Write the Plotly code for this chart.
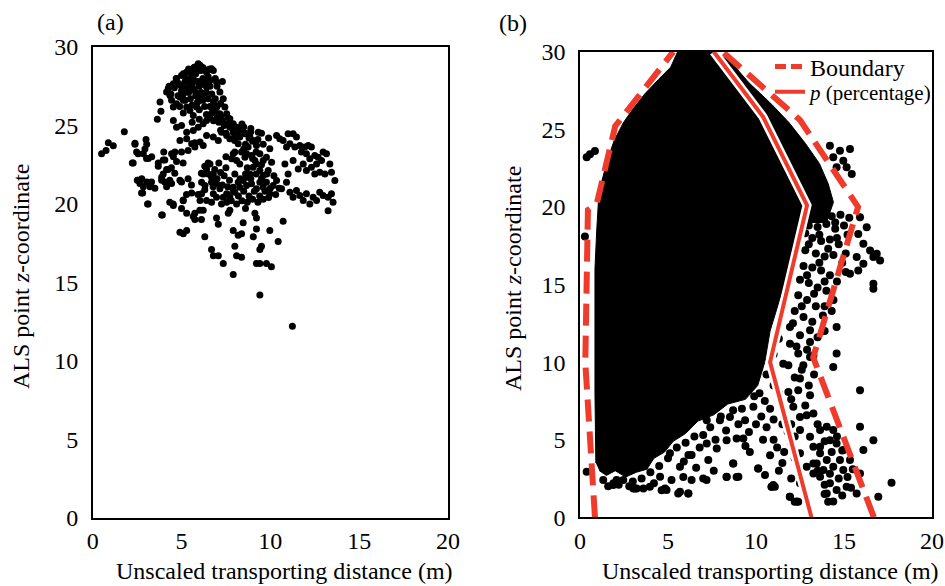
import plotly.graph_objects as go

# ---------------- Panel (a): ALS points (x = transporting distance, y = z) ----------------
a_top = [(5.94,28.94),(6.04,28.83),(5.75,28.72),(5.57,28.51),(5.29,28.40),(5.0,28.19),(4.72,27.98),
         (4.54,27.66),(4.25,27.34),(4.16,27.13),(4.35,26.91),(4.44,26.60),(4.54,26.17),(4.72,26.38),
         (4.91,26.81),(5.10,26.60),(5.29,26.17),(5.47,25.96),(5.66,25.64),(5.85,26.17),(6.04,26.60),
         (6.22,27.02),(6.41,27.45),(6.60,27.87),(6.79,28.51),(6.50,28.55),(6.69,28.62),(6.97,27.77),
         (7.16,27.13),(7.35,26.70),(7.44,26.17),(7.54,25.74),(7.72,25.43),(7.91,25.11),(8.10,24.89),
         (8.19,24.47),(7.91,24.57),(7.72,24.89),(7.16,25.74),(6.97,26.17),(6.79,25.96),(6.60,25.53),
         (6.41,25.32),(6.22,25.11),(5.94,24.89),(5.66,24.68),(5.29,24.57),(5.0,25.0),(4.72,24.89),
         (4.54,25.32),(4.6,27.4),(4.9,27.6),(5.2,27.8),(5.5,28.0),(5.8,28.3),(6.1,28.5),(6.4,28.4),
         (5.0,27.2),(5.3,27.4),(5.6,27.6),(5.9,27.8),(6.2,28.0),(6.5,28.1),(4.8,26.9),(5.1,27.0),
         (5.4,27.1),(5.7,27.3),(6.0,27.5),(6.3,27.6),(6.6,27.5),(5.2,26.6),(5.5,26.7),(5.8,26.9),
         (6.1,27.1),(6.4,27.1),(6.7,27.0),(5.6,26.3),(5.9,26.5),(6.2,26.6),(6.5,26.7),(6.8,26.5),
         (7.0,26.2),(6.0,26.0),(6.3,26.2),(6.6,26.2),(6.9,25.9),(7.2,25.6),(6.4,25.7),(6.7,25.8),
         (7.0,25.5),(7.3,25.3),(7.6,25.1),(6.8,25.3),(7.1,25.2),(7.4,25.0),(7.8,24.9),(8.3,24.7),
         (8.0,24.3),(7.5,24.5),(7.2,24.7),(8.6,24.5),(8.8,24.2),(9.0,24.0),(8.6,23.8),(4.4,27.0),
         (4.3,27.5),(4.7,28.0),(5.1,28.3),(5.4,28.6),(5.7,28.7),(6.2,28.7),(6.6,28.6),(6.9,28.0),
         (7.0,27.5),(7.3,27.8),(3.64,25.4),(3.84,25.9),(3.79,26.5),(4.8,27.7),(5.3,28.0),(5.6,28.3),
         (5.9,28.5),(5.4,27.8),(5.0,27.5),(5.7,27.9),(6.1,27.8),(6.4,27.8),(5.5,27.4),(5.8,27.1),
         (6.1,26.8),(6.9,26.7),(7.2,26.4),(7.6,25.5),(8.4,25.1),(8.9,24.6),(9.3,24.1),(6.0,25.4),
         (5.6,25.2),(5.1,25.8),(4.9,26.2)]

a_mid = [(6.13,21.38),(6.22,21.91),(6.41,22.23),(6.60,22.55),(6.69,21.38),(6.79,20.64),(6.50,21.91),
         (6.32,21.17),(6.13,20.64),(6.04,20.21),(6.41,20.21),(6.69,20.11),(6.97,20.43),(7.25,20.0),
         (7.54,20.64),(7.91,21.06),(8.19,21.38),(8.66,21.17),(8.94,21.28),(9.22,20.96),(9.41,21.38),
         (9.60,21.06),(9.78,21.38),(9.97,20.64),(10.16,21.17),(10.35,21.49),(10.63,20.96),(10.91,21.38),
         (11.10,20.74),(11.28,20.43),(11.47,20.85),(11.66,20.53),(11.85,20.21),(12.03,20.64),(12.22,20.0),
         (12.41,20.43),(12.60,20.21),(12.78,20.74),(12.97,20.53),(13.25,20.43),(13.44,20.64),(13.53,20.11),
         (13.25,19.57),(7.72,20.43),(8.0,20.74),(8.28,21.06),(8.47,21.49),(8.75,21.70),(8.85,21.91),
         (9.03,22.34),(9.22,22.55),(9.41,22.13),(9.60,21.81),(9.88,22.13),(10.07,22.66),(9.97,23.51),
         (9.78,22.98),(9.60,22.77),(9.41,23.19),(9.13,22.77),(8.94,23.09),(8.57,22.98),(8.28,22.55),
         (8.10,22.77),(7.82,22.87),(7.91,23.19),(8.19,23.83),(8.38,23.30),(8.66,23.19),(8.75,23.62),
         (9.22,23.72),(9.32,24.57),(9.03,24.04),(8.85,24.26),(8.57,24.47),(8.28,24.26),(7.99,24.04),
         (7.72,24.15),(7.54,24.36),(7.25,24.57),(7.07,24.04),(6.79,24.26),(6.41,24.36),(6.22,23.72),
         (6.04,23.94),(5.75,23.62),(5.57,23.83),(5.29,24.15),(4.91,24.04),(7.16,20.96),(6.97,21.28),
         (6.79,21.91),(7.35,20.43),(7.54,20.11),(7.4,21.8),(7.7,21.5),(8.0,21.9),(8.3,21.6),(8.6,21.9),
         (8.9,21.6),(9.2,21.9),(9.5,21.6),(9.8,21.9),(7.6,21.1),(7.9,20.8),(8.2,20.5),(8.5,20.8),
         (8.8,20.5),(9.1,20.8),(9.4,20.5),(9.7,20.8),(10.0,21.0),(7.8,20.2),(8.1,20.0),(8.4,20.2),
         (8.7,20.1),(9.0,20.3),(9.3,20.1),(9.6,20.3),(8.6,19.7),(9.9,20.4),(10.3,20.6),(10.5,21.0),
         (10.2,21.8),(9.5,22.5),(9.0,22.9),(8.7,22.3),(7.5,22.3),(7.2,22.0),(7.0,21.6),(7.3,21.2),
         (7.1,22.6),(7.5,23.0),(8.0,23.3),(8.5,23.5),(9.2,23.3),(9.6,23.8),(9.9,24.2),(9.5,24.5),
         (8.9,24.8),(8.5,24.9)]

a_right = [(10.35,24.36),(10.53,24.15),(10.72,24.04),(11.0,24.47),(11.28,24.47),(11.47,24.26),
           (11.10,23.83),(10.91,23.62),(11.38,23.62),(11.66,23.72),(11.94,23.62),(12.13,23.72),
           (12.31,23.62),(11.75,23.30),(12.03,23.19),(12.22,22.87),(12.50,23.09),(12.69,22.98),
           (12.97,23.30),(13.16,23.19),(12.88,22.77),(12.60,22.55),(13.35,22.55),(13.44,22.02),
           (13.63,21.49),(10.82,22.55),(11.0,21.91),(11.28,22.77),(11.57,22.23),(11.85,22.55),
           (12.03,22.13),(12.31,22.34),(12.50,21.91),(12.78,22.02),(13.07,21.91)]

a_left = [(0.5,23.2),(0.75,23.4),(0.88,23.9),(1.16,23.7),(1.78,24.6),(2.23,22.6),(2.38,23.8),(2.47,23.3),
          (2.51,21.5),(2.66,21.3),(2.76,21.6),(2.85,21.1),(3.04,21.4),(3.22,21.1),(2.81,20.7),(3.09,20.0),
          (3.0,24.1),(3.04,23.8),(2.85,23.2),(3.13,22.9),(3.32,23.0),(3.69,22.4),(3.97,22.8),(4.0,23.3),
          (3.88,21.5),(3.97,21.9),(3.92,19.3),(4.16,21.1),(4.34,20.1),(4.43,22.3),(4.54,23.0),(4.63,23.3),
          (4.16,22.2),(4.34,21.5),(4.54,19.9),(4.91,21.5),(5.0,19.7),(5.1,20.2),(4.91,18.2),(5.1,18.1),
          (5.29,18.3),(5.29,19.4),(5.57,20.7),(5.66,19.2),(5.75,19.0),(6.03,19.6),(6.22,19.6),(6.31,17.9),
          (2.38,23.86),(2.56,23.2),(2.94,23.5),(3.03,22.9),(3.69,22.6),(4.06,22.8),(4.44,23.2),(5.0,23.3),
          (5.37,23.4),(5.75,23.9),(4.72,22.7),(5.09,22.6),(4.25,22.2),(4.62,21.95),(3.88,21.7),(4.06,21.4),
          (4.44,21.3),(5.0,21.4),(5.37,21.6),(5.56,21.2),(6.12,21.95),(6.31,22.4),(6.5,22.6),(6.69,21.7),
          (6.87,22.2),(6.78,21.1),(6.31,20.9),(5.93,20.6),(5.28,20.6),(5.09,20.25),(4.53,20.0),(3.12,20.0),
          (2.75,20.7),(3.88,19.3),(5.75,19.4),(6.12,19.0),(2.56,21.5),(3.31,21.4),(3.5,21.0),(2.28,22.6)]

a_low = [(6.97,19.1),(7.07,18.7),(6.69,17.1),(6.79,16.7),(7.07,16.7),(7.35,16.2),(7.63,19.4),(7.72,19.6),
         (7.91,18.3),(7.91,15.5),(8.0,17.3),(8.1,16.7),(8.38,16.6),(8.19,18.0),(8.38,18.1),(8.47,18.8),
         (9.04,17.9),(9.22,18.4),(9.13,19.4),(9.22,19.1),(9.41,17.1),(9.5,17.3),(9.22,16.2),(9.41,16.2),
         (9.78,16.2),(10.06,16.0),(9.97,18.3),(10.44,17.6),(10.72,18.9),(9.41,14.2),(11.24,12.2)]

# ---------------- Panel (b) ----------------
# dense (fully black) part of the point cloud, outline vertices
b_core = [(0.9,3.5),(0.85,8),(0.85,12),(0.85,16),(0.95,18.5),(1.05,20.4),(1.25,21.7),(1.55,23.0),
          (1.95,24.3),(2.45,25.4),(3.0,26.3),(3.7,27.3),(4.45,28.2),(5.15,29.0),(5.55,30),(7.7,30),
          (8.6,29.3),(9.6,28.0),(10.9,26.6),(11.9,25.4),(12.8,24.1),(13.6,22.8),(14.1,21.5),
          (14.4,20.3),(14.0,19.0),(12.5,19.0),(11.6,15.0),(10.8,12.0),(10.5,10.0),(10.1,8.5),
          (9.4,7.6),(8.4,7.3),(7.6,6.6),(6.7,6.2),(6.0,5.4),(5.3,4.9),(4.8,4.2),(4.2,3.8),
          (3.8,3.1),(3.2,2.9),(2.6,2.6),(2.0,3.0),(1.5,2.7),(1.1,3.0)]

b_dots = [(11.93,12.26),(12.5,11.73),(13.07,12.05),(11.93,11.19),(12.4,10.55),(13.07,11.3),(13.26,10.44),
          (11.55,9.9),(11.84,9.8),(12.5,8.94),(12.69,9.8),(11.84,8.08),(12.4,8.19),(13.07,7.87),
          (13.26,6.69),(12.88,6.58),(12.5,6.47),(12.12,7.12),(12.5,5.62),(13.07,5.19),(13.26,4.54),
          (13.64,5.62),(14.02,5.83),(14.39,5.62),(14.2,4.97),(14.58,4.76),(13.64,4.12),(13.26,3.47),
          (14.02,3.69),(14.39,3.26),(14.77,3.69),(14.96,3.04),(13.64,2.62),(14.2,2.19),(14.58,1.76),
          (15.15,1.97),(14.39,1.01),(14.02,1.54),(15.72,1.54),(12.31,1.01),(11.93,1.33),(15.91,8.19),
          (15.91,5.83),(16.67,4.97),(16.1,4.33),(15.91,2.83),(17.7,2.23),(16.95,1.33),(14.58,12.26),
          (14.58,10.55),(14.39,9.69),(13.07,10.33),(13.45,3.47),(13.83,3.04),(13.26,2.83),(10.98,2.08),
          (10.89,1.97),(12.88,3.26),(12.5,4.12),(14.96,4.33),(15.34,3.69),(13.64,4.54),
          (8.33,4.97),(7.77,4.44),(8.9,5.08),(9.28,5.08),(7.2,4.76),(6.16,4.01),(6.34,4.01),(7.29,3.69),
          (8.71,3.47),(8.33,2.62),(9.0,2.62),(10.13,3.15),(10.51,2.72),(7.95,6.26),(8.52,6.47),(9.38,6.26),
          (9.85,7.12),(7.2,6.26),(6.63,6.69),(5.68,5.62),(5.11,4.12),(5.68,3.26),(4.55,2.62),(4.92,1.76),
          (5.68,1.65),(6.16,1.54),(3.13,1.86),(3.6,1.86),(1.89,2.08),(2.46,2.4),(0.38,2.94),
          (14.2,23.94),(14.77,23.62),(15.34,23.73),(14.96,22.98),(15.15,22.55),(15.44,22.12),(14.58,22.55),
          (14.39,23.2),(15.91,19.33),(16.29,18.69),(15.81,18.26),(16.1,17.62),(16.48,17.19),(16.86,16.98),
          (17.05,16.55),(16.67,16.77),(15.72,16.77),(16.1,16.34),(15.34,15.69),(16.67,15.05),(16.67,14.73),
          (15.81,15.91),
          (13.3,19.5),(13.8,19.6),(14.3,19.4),(14.8,19.5),(13.0,18.8),(13.5,18.7),(14.0,18.9),(14.5,18.6),
          (15.0,18.8),(13.2,18.0),(13.7,17.8),(14.2,17.9),(14.7,17.6),(12.8,17.2),(13.4,17.0),(13.9,16.8),
          (14.4,16.9),(15.1,17.0),(12.7,16.2),(13.2,16.1),(13.7,15.9),(14.2,15.6),(12.5,15.3),(13.0,15.1),
          (13.5,14.8),(14.0,14.6),(12.4,14.3),(12.9,14.0),(13.4,13.6),(12.2,13.3),(12.7,12.9),(13.2,12.6),
          (13.8,13.0),(12.1,12.5),
          (12.9,19.3),(13.5,19.2),(14.5,19.0),(15.3,19.3),(15.2,18.2),(14.9,16.4),(14.6,15.2),(14.4,14.0),
          (13.9,13.6),(13.3,14.4),(12.6,13.6),(14.3,13.3),(15.1,15.8),(13.0,17.6),(13.6,16.4),(14.1,17.3),
          (12.9,15.6),(13.9,15.2),(12.8,18.3),(13.6,18.2),(14.6,18.0),
          (0.38,23.2),(0.57,23.4),(0.85,23.6),(0.28,18.1),
          (1.32,2.4),(1.9,2.2),(2.08,2.4),(3.03,1.86),(3.22,1.86),(3.97,1.97),(4.64,1.75),(4.83,1.86),
          (5.58,1.54),(6.15,1.54),(5.2,2.4),(5.87,2.6),(6.34,2.4),(7.0,2.5),(7.19,2.4),(8.33,2.6),
          (8.9,2.6),(8.7,3.46),(9.65,4.2),(10.12,3.14),(10.88,1.97),(11.07,1.97),(11.92,1.32),(12.2,1.0),
          (12.4,1.0),
          (10.2,8.0),(10.5,7.5),(10.8,7.0),(10.3,6.5),(10.0,6.0),(9.6,5.5),(10.6,5.8),(11.0,5.0),
          (11.2,4.5),(10.8,4.0),(11.5,3.5),(11.3,3.0),(9.2,7.0),(8.7,6.9),(8.0,6.5),(7.4,5.8),(7.0,5.3),
          (6.5,5.2),(6.0,4.8),(5.5,4.5),(5.0,3.8),(4.5,3.3),(4.0,2.9),(3.5,2.5),(3.0,2.3),(2.2,2.1),
          (1.6,2.0),(2.8,2.0),(4.2,2.2),(10.0,9.5),(10.6,9.2),(11.0,8.5),(11.3,8.0),(11.0,6.3),(11.5,6.0),
          (11.8,5.5),(12.0,4.8),(11.6,4.2),(12.2,3.8),(12.0,2.5),(12.5,2.2),(11.0,10.5),(11.3,11.5),
          (12.3,11.0),(12.9,10.8),(13.5,11.6),(13.9,12.0),(12.6,9.5),(13.3,9.2),(12.2,9.0),(13.0,8.5),
          (12.0,7.6),(12.8,7.2),(13.5,6.0),(12.2,5.2),(12.0,6.0),(13.9,4.9),(14.6,5.2),(14.9,4.3),
          (14.3,4.2),(13.5,3.0),(14.2,2.8),(14.7,2.5),(13.9,2.1),(15.2,2.6),(15.5,3.1),(14.9,1.4),
          (15.4,1.9),(14.1,1.0),(13.9,1.5),(9.9,7.8),(9.0,6.0),(8.3,5.6),(7.7,5.0),(6.8,4.5),(5.9,3.6),
          (6.6,3.2),(7.6,3.0),(9.4,4.6),(10.4,5.0)]

# boundary (dashed) polylines and p (percentage) solid polyline
bnd_left_x = [0.85, 0.3, 0.45, 0.95, 2.0, 5.3]
bnd_left_y = [0, 10, 19.8, 20.2, 25.2, 30]
bnd_right_x = [16.7, 13.25, 15.8, 12.5, 8.1]
bnd_right_y = [0, 10.3, 20, 25.6, 30]
p_x = [13.15, 10.8, 12.9, 10.4, 7.6]
p_y = [0, 10, 20.1, 25.8, 30]

x_ticks = [0, 5, 10, 15, 20]
y_ticks = [0, 5, 10, 15, 20, 25, 30]

RED = "#EE3B2C"
FONT = "Liberation Serif"
FS = 24


def xs(pts):
    return [p[0] for p in pts]


def ys(pts):
    return [p[1] for p in pts]


fig = go.Figure()

a_all = a_top + a_mid + a_right + a_left + a_low
fig.add_trace(go.Scatter(x=xs(a_all), y=ys(a_all), mode="markers", xaxis="x", yaxis="y",
                         marker=dict(color="black", size=7), showlegend=False, hoverinfo="skip"))

fig.add_trace(go.Scatter(x=xs(b_core), y=ys(b_core), mode="lines", fill="toself", xaxis="x2", yaxis="y2",
                         fillcolor="black", line=dict(color="black", width=1),
                         showlegend=False, hoverinfo="skip"))
fig.add_trace(go.Scatter(x=xs(b_dots), y=ys(b_dots), mode="markers", xaxis="x2", yaxis="y2",
                         marker=dict(color="black", size=8), showlegend=False, hoverinfo="skip"))

# white casing under the p line
fig.add_trace(go.Scatter(x=p_x, y=p_y, mode="lines", xaxis="x2", yaxis="y2",
                         line=dict(color="white", width=9), showlegend=False, hoverinfo="skip"))

bx = bnd_left_x + [None] + bnd_right_x
by = bnd_left_y + [None] + bnd_right_y
fig.add_trace(go.Scatter(x=bx, y=by, mode="lines", xaxis="x2", yaxis="y2", name="Boundary",
                         line=dict(color=RED, width=6, dash="22px,10px"), connectgaps=False,
                         hoverinfo="skip", showlegend=False))
fig.add_trace(go.Scatter(x=p_x, y=p_y, mode="lines", xaxis="x2", yaxis="y2",
                         name="<i>p</i> (percentage)", line=dict(color=RED, width=4), hoverinfo="skip",
                         legend="legend2"))
# legend-only entry for the boundary (short dashes as in the key)
fig.add_trace(go.Scatter(x=[None], y=[None], mode="lines", xaxis="x2", yaxis="y2", name="Boundary",
                         line=dict(color=RED, width=5, dash="11px,5px"), hoverinfo="skip",
                         legend="legend"))

W, H = 945, 586
axis_common = dict(range=[0, 20], tickvals=x_ticks, showgrid=False, zeroline=False, showline=True,
                   mirror=True, linecolor="black", linewidth=1.5, ticks="", automargin=False,
                   tickfont=dict(family=FONT, size=FS, color="black"), ticklabelstandoff=1)
yaxis_common = dict(range=[0, 30], tickvals=y_ticks, showgrid=False, zeroline=False, showline=True,
                    mirror=True, linecolor="black", linewidth=1.5, ticks="", automargin=False,
                    tickfont=dict(family=FONT, size=FS, color="black"), ticklabelstandoff=8)

leg_common = dict(xanchor="left", yanchor="middle", bgcolor="rgba(0,0,0,0)", itemwidth=30)

fig.update_layout(
    template="none",
    width=W, height=H, margin=dict(l=0, r=0, t=0, b=0, autoexpand=False),
    paper_bgcolor="white", plot_bgcolor="white",
    xaxis=dict(domain=[92.7 / W, 448 / W], anchor="y", **axis_common),
    yaxis=dict(domain=[1 - 517.7 / H, 1 - 47 / H], anchor="x", **yaxis_common),
    xaxis2=dict(domain=[580 / W, 932 / W], anchor="y2", **axis_common),
    yaxis2=dict(domain=[1 - 517.3 / H, 1 - 51.7 / H], anchor="x2", **yaxis_common),
    legend=dict(x=770 / W, y=1 - 67 / H, font=dict(family=FONT, size=FS, color="black"), **leg_common),
    legend2=dict(x=770 / W, y=1 - 92 / H, font=dict(family=FONT, size=21, color="black"), **leg_common),
    font=dict(family=FONT, size=FS, color="black"),
    showlegend=True,
)

ann = [
    dict(text="(a)", x=110 / W, y=1 - 22 / H),
    dict(text="(b)", x=513 / W, y=1 - 23 / H),
    dict(text="Unscaled transporting distance (m)", x=284 / W, y=1 - 571 / H),
    dict(text="Unscaled transporting distance (m)", x=770 / W, y=1 - 571 / H),
    dict(text="ALS point <i>z</i>-coordinate", x=21 / W, y=1 - 277 / H, textangle=-90),
    dict(text="ALS point <i>z</i>-coordinate", x=513 / W, y=1 - 279 / H, textangle=-90),
]
for a in ann:
    fig.add_annotation(xref="paper", yref="paper", showarrow=False, xanchor="center", yanchor="middle",
                       font=dict(family=FONT, size=FS, color="black"), **a)

fig.write_html("out.html")
